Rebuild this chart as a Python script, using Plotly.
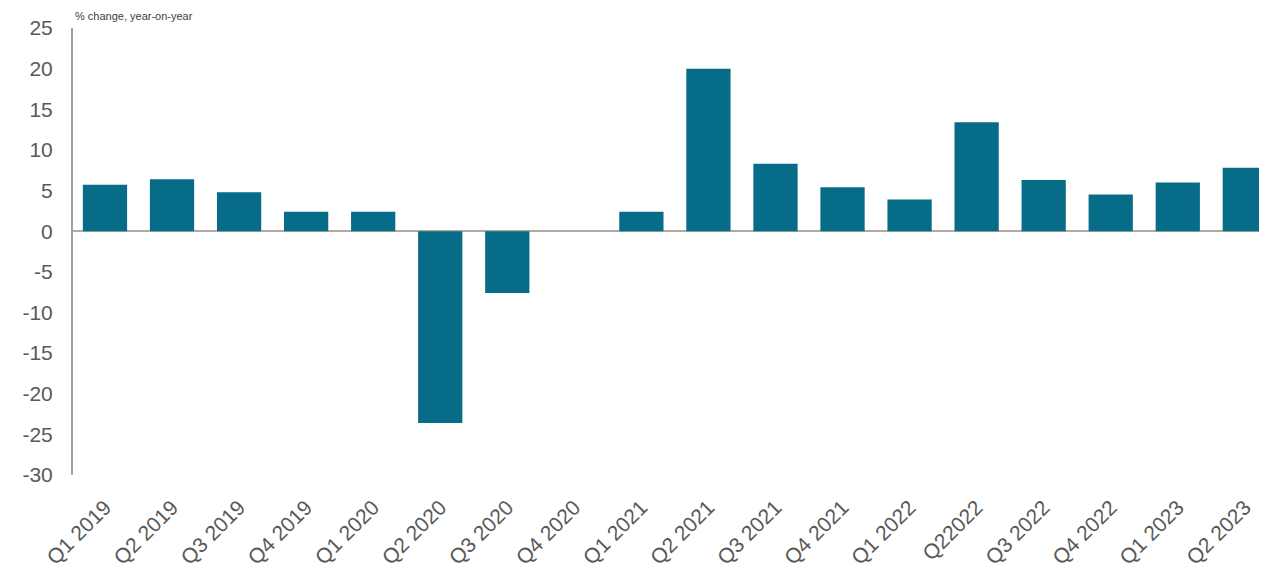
import plotly.graph_objects as go

categories = ["Q1 2019", "Q2 2019", "Q3 2019", "Q4 2019", "Q1 2020", "Q2 2020",
              "Q3 2020", "Q4 2020", "Q1 2021", "Q2 2021", "Q3 2021", "Q4 2021",
              "Q1 2022", "Q22022", "Q3 2022", "Q4 2022", "Q1 2023", "Q2 2023"]
growth = [5.7, 6.4, 4.8, 2.4, 2.4, -23.6, -7.6, 0.0, 2.4, 20.0, 8.3, 5.4,
          3.9, 13.4, 6.3, 4.5, 6.0, 7.8]
y_ticks = [25, 20, 15, 10, 5, 0, -5, -10, -15, -20, -25, -30]
title_text = "% change, year-on-year"

BAR = "#066c88"
TXT = "#595959"
FONT = "Liberation Sans, Arial, sans-serif"

fig = go.Figure(go.Bar(x=categories, y=growth, marker_color=BAR,
                       marker_line_width=0))

fig.update_layout(
    width=1267, height=569,
    margin=dict(l=65, r=0, t=20, b=102, autoexpand=False),
    paper_bgcolor="white", plot_bgcolor="white",
    bargap=0.34, showlegend=False,
    font=dict(family=FONT, color=TXT),
)
fig.update_xaxes(
    type="category", range=[-0.477, 17.45],
    showline=False, showgrid=False, zeroline=False,
    tickangle=-45, tickfont=dict(size=21, color=TXT, family=FONT),
    ticks="", ticklabelstandoff=15, automargin=False,
)
fig.update_yaxes(
    range=[-30, 25], tickvals=y_ticks, ticktext=[str(v) for v in y_ticks],
    showline=True, linecolor="#a0a0a0", linewidth=2,
    showgrid=False, zeroline=True, zerolinecolor="#b0aaa0", zerolinewidth=2,
    tickfont=dict(size=21, color=TXT, family=FONT),
    ticks="", ticklabelstandoff=14, automargin=False,
)
fig.add_annotation(text=title_text, xref="paper", yref="paper",
                   x=0.0, y=1.0, yshift=20, xanchor="left", yanchor="top",
                   showarrow=False, font=dict(size=11, color="#404040", family=FONT))

fig.write_html("out.html")
